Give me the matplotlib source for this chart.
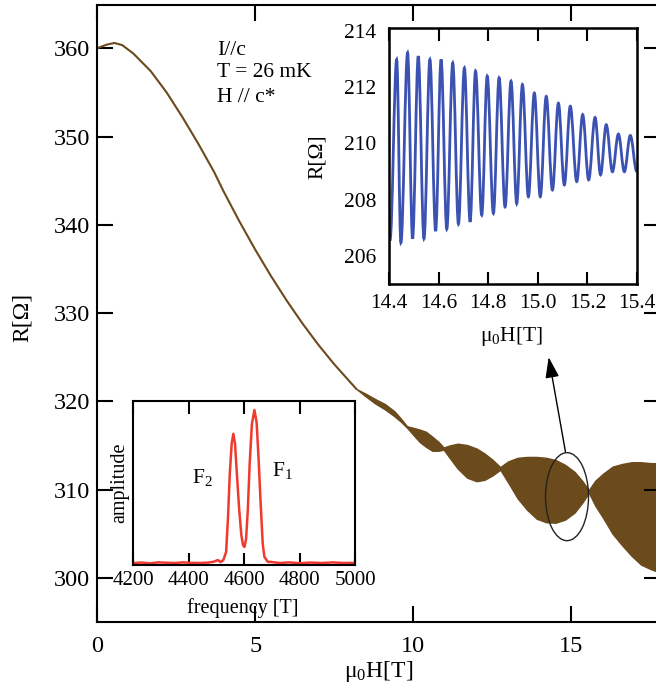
import numpy as np
import matplotlib
matplotlib.use("Agg")
import matplotlib.pyplot as plt
from matplotlib.patches import Ellipse, PathPatch
from matplotlib.path import Path

plt.rcParams['font.family'] = ['Liberation Serif', 'DejaVu Serif']
plt.rcParams['mathtext.fontset'] = 'custom'
plt.rcParams['mathtext.rm'] = 'Liberation Serif'
plt.rcParams['mathtext.default'] = 'regular'

# ---------------- main sweep: R(H) at 26 mK ----------------
# smooth low-field part
field_line = [0.0, 0.3, 0.55, 0.8, 1.15, 1.7, 2.2, 2.7, 3.2, 3.7, 4.0, 4.5,
              5.0, 5.5, 6.0, 6.5, 7.0, 7.5, 8.0, 8.2]
r_line = [360.0, 360.4, 360.6, 360.35, 359.4, 357.4, 355.0, 352.2, 349.2,
          346.0, 343.8, 340.4, 337.2, 334.2, 331.4, 328.8, 326.4, 324.2,
          322.2, 321.4]

# high-field part: envelope of the fast quantum oscillations (beating)
field_env = [8.2, 8.5, 8.8, 9.1, 9.4, 9.6, 9.8, 10.0, 10.2, 10.4, 10.6, 10.8,
             10.96, 11.15, 11.4, 11.7, 12.0, 12.25, 12.5, 12.75, 13.0, 13.3,
             13.6, 13.9, 14.2, 14.5, 14.8, 15.1, 15.35, 15.55, 15.75, 16.0,
             16.3, 16.6, 16.9, 17.2, 17.5, 17.8]
r_upper = [321.4, 320.85, 320.25, 319.7, 318.88, 318.08, 317.18, 317.0,
           316.8, 316.55, 316.0, 315.4, 314.77, 315.0, 315.2, 315.05, 314.65,
           314.1, 313.4, 312.55, 313.2, 313.6, 313.7, 313.7, 313.6, 313.35,
           312.8, 312.0, 310.95, 309.95, 311.0, 311.8, 312.6, 312.9, 313.1,
           313.1, 313.0, 313.0]
r_lower = [321.4, 320.55, 319.75, 319.1, 318.32, 317.72, 317.02, 316.2,
           315.4, 314.85, 314.4, 314.4, 314.53, 313.6, 312.4, 311.35, 310.95,
           311.1, 311.6, 312.25, 310.8, 309.0, 307.7, 306.7, 306.3, 306.25,
           306.6, 307.4, 308.55, 309.65, 308.2, 306.8, 305.0, 303.7, 302.5,
           301.5, 301.0, 300.6]

main_xticks = [0, 5, 10, 15]
main_yticks = [300, 310, 320, 330, 340, 350, 360]

# ---------------- zoomed oscillations 14.4-15.4 T (extrema) ----------------
osc_field = [14.404, 14.431, 14.448, 14.475, 14.495, 14.518, 14.541, 14.565,
             14.588, 14.610, 14.633, 14.657, 14.680, 14.704, 14.727, 14.749,
             14.774, 14.796, 14.821, 14.844, 14.868, 14.892, 14.915, 14.938,
             14.962, 14.986, 15.010, 15.034, 15.059, 15.083, 15.107, 15.131,
             15.157, 15.181, 15.205, 15.231, 15.253, 15.276, 15.301, 15.325,
             15.349, 15.373, 15.399]
osc_r = [206.55, 212.98, 206.47, 213.22, 206.61, 213.10, 206.61, 212.98,
         206.88, 212.98, 206.95, 212.86, 207.13, 212.68, 207.21, 212.57,
         207.45, 212.39, 207.51, 212.33, 207.74, 212.21, 207.86, 212.09,
         208.10, 211.79, 208.10, 211.67, 208.34, 211.43, 208.52, 211.32,
         208.64, 211.02, 208.70, 210.92, 208.88, 210.66, 208.99, 210.33,
         208.99, 210.28, 209.0]
osc_xticks = [14.4, 14.6, 14.8, 15.0, 15.2, 15.4]
osc_xlabels = ['14.4', '14.6', '14.8', '15.0', '15.2', '15.4']
osc_yticks = [206, 208, 210, 212, 214]

# ---------------- Fourier spectrum ----------------
freq = [4200, 4230, 4260, 4290, 4320, 4350, 4380, 4410, 4440, 4470, 4490, 4505,
        4515, 4525, 4535, 4542, 4548, 4555, 4561, 4567, 4574, 4582, 4590, 4596,
        4601, 4607, 4613, 4620, 4628, 4637, 4645, 4652, 4660, 4667, 4673, 4685,
        4700, 4730, 4760, 4800, 4840, 4880, 4920, 4960, 5000]
amp = [0.012, 0.015, 0.010, 0.016, 0.014, 0.012, 0.016, 0.013, 0.012, 0.015,
       0.020, 0.030, 0.018, 0.030, 0.08, 0.30, 0.55, 0.74, 0.80, 0.74, 0.55,
       0.34, 0.18, 0.12, 0.11, 0.16, 0.33, 0.62, 0.86, 0.945, 0.87, 0.65, 0.36,
       0.13, 0.05, 0.020, 0.018, 0.012, 0.016, 0.011, 0.015, 0.012, 0.016,
       0.012, 0.013]
freq_ticks = [4200, 4400, 4600, 4800, 5000]

BROWN = '#6b4a1c'
BLUE = '#3b52b2'
RED = '#f03a2e'

W, H = 656, 696
fig = plt.figure(figsize=(W / 100, H / 100), dpi=100)


def px_axes(x0, y0, x1, y1):
    """Axes rectangle from pixel corners (top-left origin)."""
    return fig.add_axes([x0 / W, 1 - y1 / H, (x1 - x0) / W, (y1 - y0) / H])


# ---------- main axes ----------
ax = px_axes(97, 5, 660, 622)
ax.plot(field_line, r_line, color=BROWN, lw=1.5, solid_capstyle='round')
ax.fill_between(field_env, r_lower, r_upper, color=BROWN, lw=1.0,
                edgecolor=BROWN)
ax.set_xlim(0, 17.8)
ax.set_ylim(295, 364.9)
ax.set_xticks(main_xticks)
ax.set_yticks(main_yticks)
for s in ax.spines.values():
    s.set_linewidth(1.5)
ax.tick_params(direction='in', length=11.5, width=1.5, top=True, right=True,
               labelsize=17.5)
ax.tick_params(axis='y', pad=5)
ax.tick_params(axis='x', pad=10)
ax.set_xlabel('μ$_0$H[T]', fontsize=17)
ax.xaxis.set_label_coords(0.5, -0.081)
ax.xaxis.label.set_va('center')
ax.set_ylabel('R[Ω]', fontsize=17)
ax.yaxis.set_label_coords(-0.133, 0.493)
ax.yaxis.label.set_va('center')

for txt, yy in [('I//c', 359.8), ('T = 26 mK', 357.2), ('H // c*', 354.4)]:
    ax.text(3.8, yy, txt, fontsize=15.5, ha='left', va='center')

ax.add_patch(Ellipse((14.86, 309.2), 1.36, 9.97, fill=False, ec='#222222',
                     lw=1.0, zorder=5))
ax.annotate('', xy=(14.28, 325.0), xytext=(14.81, 314.3),
            arrowprops=dict(arrowstyle='-|>,head_length=0.9,head_width=0.3',
                            color='black', lw=1.0, shrinkA=0, shrinkB=0,
                            mutation_scale=14))

# ---------- inset: oscillations ----------
ins = px_axes(389, 28, 637, 284)
verts = [(osc_field[0], osc_r[0])]
codes = [Path.MOVETO]
k = 0.364
for (x0, y0), (x1, y1) in zip(zip(osc_field[:-1], osc_r[:-1]),
                              zip(osc_field[1:], osc_r[1:])):
    dx = x1 - x0
    verts += [(x0 + k * dx, y0), (x1 - k * dx, y1), (x1, y1)]
    codes += [Path.CURVE4] * 3
ins.add_patch(PathPatch(Path(verts, codes), fill=False, ec=BLUE, lw=2.0))
ins.set_xlim(14.4, 15.4)
ins.set_ylim(205, 214.1)
ins.set_xticks(osc_xticks)
ins.set_xticklabels(osc_xlabels)
ins.set_yticks(osc_yticks)
for s in ins.spines.values():
    s.set_linewidth(1.8)
ins.tick_params(axis='x', direction='in', length=9, width=1.5, top=True,
                labelsize=15.5, pad=7)
ins.tick_params(axis='y', length=0, labelsize=15.5, pad=9)
ins.set_xlabel('μ$_0$H[T]', fontsize=15.5)
ins.xaxis.set_label_coords(0.496, -0.207)
ins.xaxis.label.set_va('center')
ins.set_ylabel('R[Ω]', fontsize=15.5)
ins.yaxis.set_label_coords(-0.29, 0.496)
ins.yaxis.label.set_va('center')

# ---------- inset: Fourier spectrum ----------
ft = px_axes(133.3, 401, 355, 565)
ft.plot(freq, amp, color=RED, lw=1.8)
ft.set_xlim(4200, 5000)
ft.set_ylim(0, 1.0)
ft.set_xticks(freq_ticks)
ft.set_yticks([])
for s in ft.spines.values():
    s.set_linewidth(1.5)
ft.tick_params(axis='x', direction='in', length=9, width=1.5, top=True,
               labelsize=15, pad=4)
ft.set_xlabel('frequency [T]', fontsize=14.5)
ft.xaxis.set_label_coords(0.495, -0.262)
ft.xaxis.label.set_va('center')
ft.set_ylabel('amplitude', fontsize=14.5)
ft.yaxis.set_label_coords(-0.06, 0.5)
ft.yaxis.label.set_va('center')
ft.text(4448, 0.536, 'F$_2$', fontsize=15.5, ha='center', va='center')
ft.text(4737, 0.578, 'F$_1$', fontsize=15.5, ha='center', va='center')

fig.savefig('out.png', dpi=100)
